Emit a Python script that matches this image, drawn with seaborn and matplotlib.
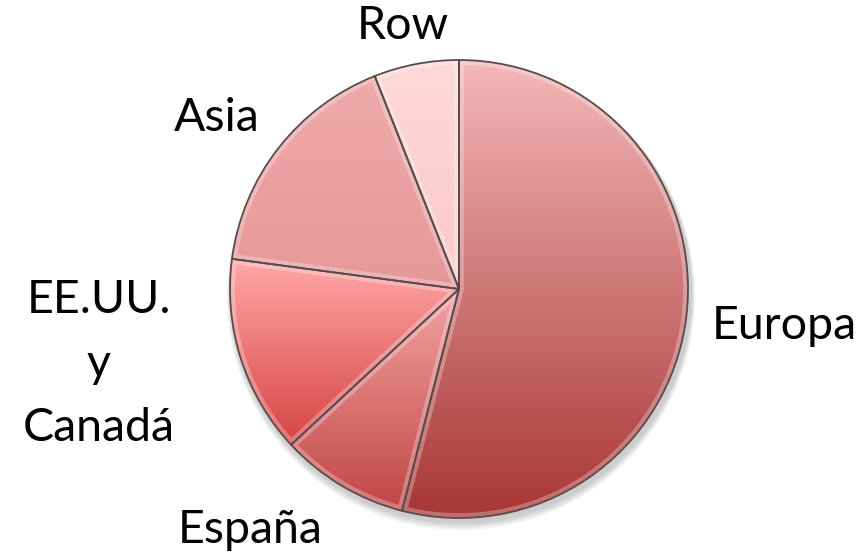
import numpy as np
import matplotlib
matplotlib.use("Agg")
import matplotlib.pyplot as plt
import seaborn as sns
from matplotlib.colors import LinearSegmentedColormap
from matplotlib.patches import Wedge

# ---- data ----
categories = ["Europa", "España", "EE.UU.\ny\nCanadá", "Asia", "Row"]
shares = [54.0, 9.1, 14.0, 16.9, 6.0]
top_colors = ["#f4b8b8", "#f2a2a2", "#ffa8a8", "#efaaaa", "#ffd9d9"]
bottom_colors = ["#a83636", "#c24646", "#d64444", "#e69898", "#fbc8c8"]

sns.set_theme(style="white")
plt.rcParams['font.family'] = ['Lato', 'DejaVu Sans']

W, H = 861, 555
fig = plt.figure(figsize=(W / 100, H / 100), dpi=100)
ax = fig.add_axes([0, 0, 1, 1])
ax.set_xlim(0, W)
ax.set_ylim(0, H)
ax.axis("off")

def py(y):
    return H - y

cx, cy, r = 459, py(289), 229

# soft shadow
for k, a in enumerate([0.05, 0.05, 0.05, 0.05]):
    sh = plt.Circle((cx + 2, cy - 4 - k), r + 2 + k, color="#000000", alpha=a, lw=0, zorder=0)
    ax.add_patch(sh)

wedges, _ = ax.pie(shares, startangle=90, counterclock=False,
                   center=(cx, cy), radius=r, colors=top_colors,
                   wedgeprops=dict(edgecolor="#5a4a4a", linewidth=1.3))

grad = np.linspace(1, 0, 256).reshape(-1, 1)
for w, tc, bc in zip(wedges, top_colors, bottom_colors):
    ext = w.get_path().get_extents()
    cmap = LinearSegmentedColormap.from_list("g", [bc, tc])
    im = ax.imshow(grad, extent=(ext.x0, ext.x1, ext.y0, ext.y1), cmap=cmap,
                   aspect="auto", origin="upper", zorder=1.5, vmin=0, vmax=1)
    im.set_clip_path(w)
    # bevel highlight along the inside of each slice edge
    glow = Wedge(w.center, w.r, w.theta1, w.theta2, facecolor="none",
                 edgecolor="white", linewidth=7, alpha=0.28, zorder=1.8)
    ax.add_patch(glow)
    glow.set_clip_path(w)
    w.set_zorder(2)
    w.set_facecolor("none")

# labels
fs = 33.5
ax.text(403, py(26), "Row", fontsize=fs, ha="center", va="center", color="black")
ax.text(217, py(118), "Asia", fontsize=fs, ha="center", va="center", color="black")
ax.text(99, py(364), "EE.UU.\ny\nCanadá", fontsize=fs, ha="center", va="center",
        color="black", linespacing=1.64)
ax.text(250, py(530), "España", fontsize=fs, ha="center", va="center", color="black")
ax.text(784, py(326), "Europa", fontsize=fs, ha="center", va="center", color="black")

ax.set_xlim(0, W)
ax.set_ylim(0, H)
ax.set_aspect("equal")
fig.savefig("out.png", dpi=100, facecolor="white")
